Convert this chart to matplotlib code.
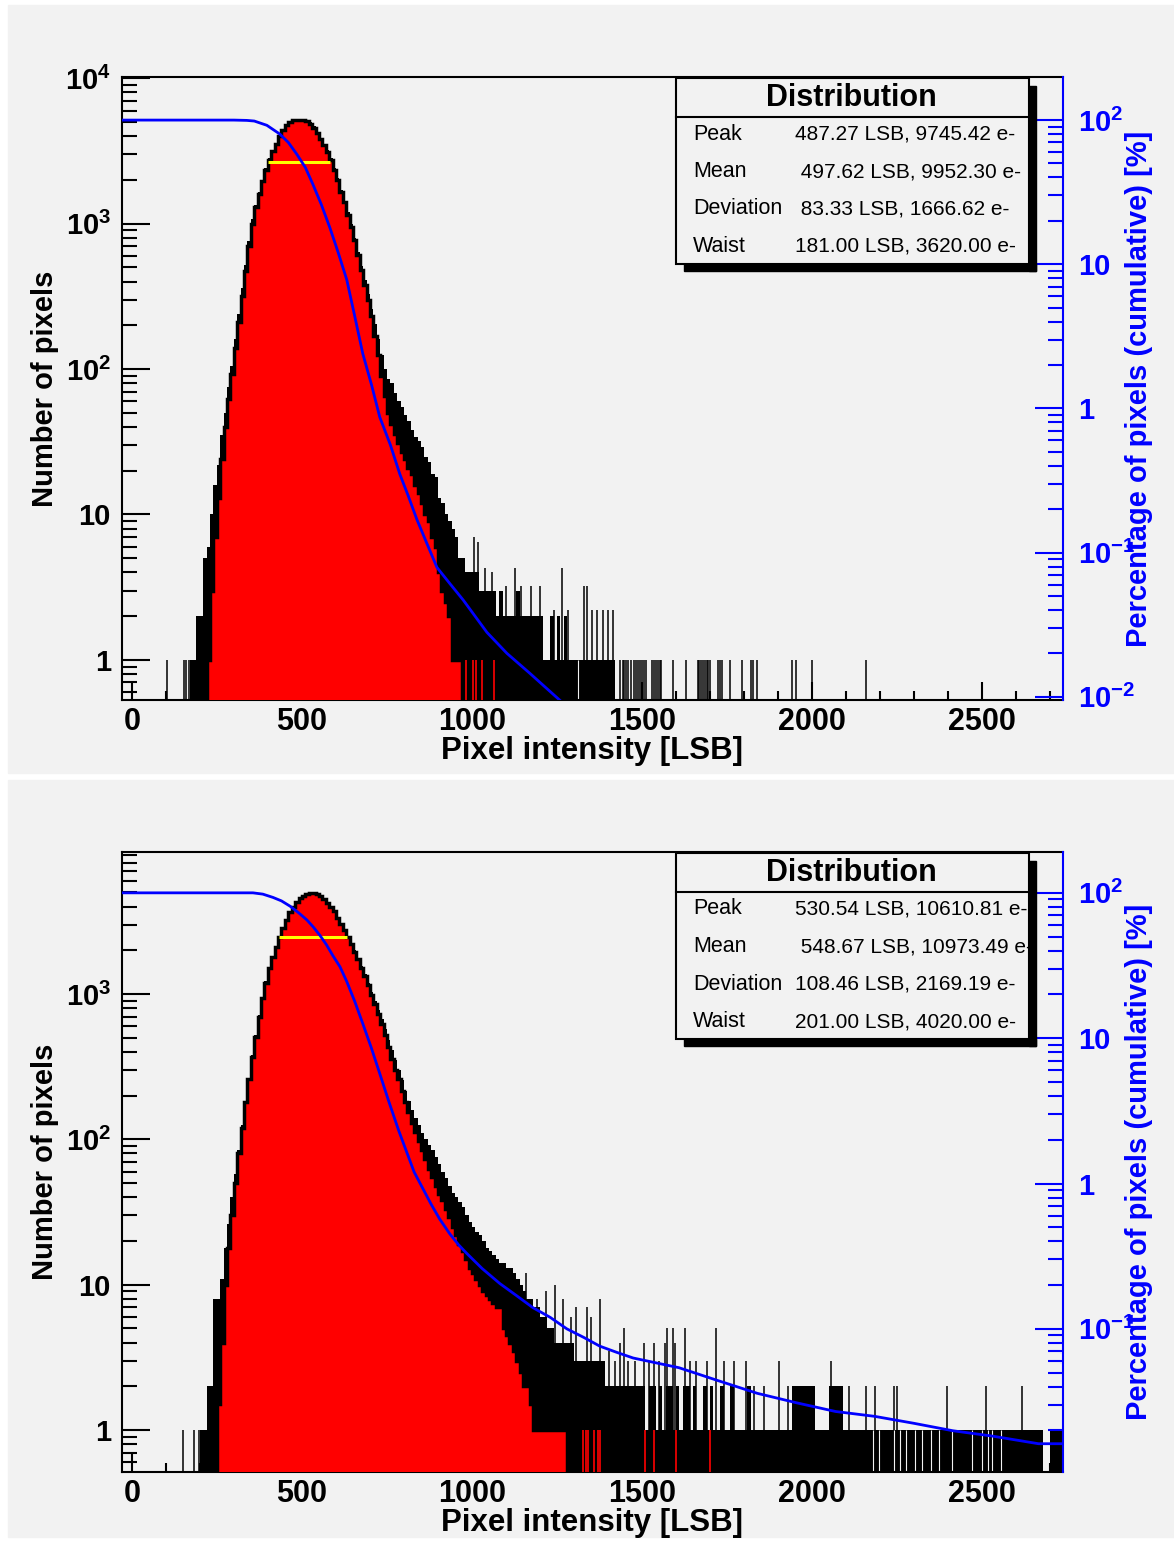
import numpy as np
import matplotlib
matplotlib.use("Agg")
import matplotlib.pyplot as plt
from matplotlib.patches import Rectangle
from matplotlib.lines import Line2D
from matplotlib.ticker import FixedLocator, FuncFormatter, LogLocator, NullFormatter, MultipleLocator

plt.rcParams['font.family'] = ['Liberation Sans', 'DejaVu Sans']
plt.rcParams['font.weight'] = 'bold'
plt.rcParams['mathtext.fontset'] = 'custom'
plt.rcParams['mathtext.rm'] = 'Liberation Sans:bold'
plt.rcParams['mathtext.it'] = 'Liberation Sans:bold'
plt.rcParams['mathtext.bf'] = 'Liberation Sans:bold'

# ---------------- data ----------------
BIN = 10  # LSB per bin of the lists below

# top panel: black envelope, red filled histogram, isolated spikes
top_blk_x0 = 170
top_blk = [1, 1, 2, 2, 5, 6, 10, 16, 22, 35,
           50, 75, 105, 160, 240, 360, 520, 760, 1080, 1350,
           1650, 2000, 2400, 2850, 3200, 3600, 4050, 4450, 4800, 5050,
           5200, 5250, 5250, 5200, 5150, 5000, 4700, 4300, 3900, 3550,
           3200, 2850, 2400, 2050, 1700, 1430, 1200, 1000, 800, 640,
           510, 410, 330, 260, 205, 160, 125, 100, 85, 80,
           68, 60, 55, 48, 44, 38, 34, 32, 29, 25,
           23, 19, 18, 13, 12, 10, 9, 8, 7, 5,
           5, 4, 4, 4, 4, 3, 3, 3, 3, 3,
           2, 3, 2, 2, 2, 2, 3, 2, 2, 2,
           2, 2, 2, 2, 1, 1, 2, 1, 2, 1,
           2, 1, 1, 1, 1, 1, 1, 1, 1, 1,
           1, 1, 1, 1, 1]
top_red_x0 = 220
top_red = [1, 3, 7, 13, 24, 40, 62, 92, 140, 210,
           320, 470, 700, 1000, 1300, 1600, 1950, 2350, 2750, 3150,
           3550, 4000, 4400, 4750, 5000, 5150, 5200, 5200, 5150, 5050,
           4850, 4550, 4200, 3800, 3450, 3100, 2750, 2350, 2000, 1650,
           1400, 1150, 950, 770, 610, 480, 380, 300, 230, 170,
           125, 90, 65, 50, 42, 36, 31, 27, 24, 21,
           19, 16, 14, 12, 10, 9, 7, 6, 4, 3,
           2.5, 2, 1, 1, 1]
top_spk_x = [103, 153, 160, 168, 1005, 1018, 1038, 1060, 1100, 1126, 1145, 1175,
             1200, 1240, 1264, 1282, 1329, 1337, 1352, 1368, 1385, 1400, 1414,
             1434, 1443, 1448, 1454, 1460, 1469, 1477, 1483, 1489, 1494,
             1500, 1506, 1511, 1529, 1534, 1540, 1546, 1552, 1557, 1592,
             1630, 1664, 1669, 1673, 1678, 1684, 1690, 1695, 1701, 1724,
             1730, 1736, 1759, 1793, 1822, 1827, 1839, 1942, 1954, 2000, 2158]
top_spk_n = [1, 1, 1, 1, 7, 6.5, 4.3, 4, 3.2, 4.3, 3.2, 3.2,
             3.2, 2.2, 4.3, 2.2, 3.2, 3.2, 2.2, 2.2, 2.2, 2.2, 2.2,
             1, 1, 1, 1, 1, 1, 1, 1, 1, 1,
             1, 1, 1, 1, 1, 1, 1, 1, 1, 1,
             1, 1, 1, 1, 1, 1, 1, 1, 1, 1,
             1, 1, 1, 1, 1, 1, 1, 1, 1, 1, 1]
top_gap_x = [1312]
top_rspk_x = [982, 1003, 1013, 1030, 1065]
top_fwhm_x = [400, 583]
top_fwhm_y = 2650
top_cum_x = [-29, 300, 338, 360, 397, 435, 460, 485, 510, 532, 557, 582, 607,
             632, 655, 679, 705, 729, 760, 788, 812, 838, 868, 897, 935, 974,
             1044, 1103, 1171, 1262]
top_cum_p = [100, 100, 99.5, 98.5, 92, 80, 70, 58, 47, 36, 26, 18, 12,
             7.8, 4.4, 2.4, 1.45, 0.87, 0.56, 0.35, 0.25, 0.17, 0.115, 0.079,
             0.061, 0.047, 0.028, 0.020, 0.0145, 0.0093]
top_stats = [("Peak", "487.27 LSB, 9745.42 e-"),
             ("Mean", " 497.62 LSB, 9952.30 e-"),
             ("Deviation", " 83.33 LSB, 1666.62 e-"),
             ("Waist", "181.00 LSB, 3620.00 e-")]

# bottom panel
bot_blk_x0 = 150
bot_blk = [0, 0, 0, 0, 0, 1, 1, 2, 2, 8,
           8, 11, 18, 26, 40, 58, 85, 125, 185, 265,
           380, 520, 720, 960, 1220, 1520, 1830, 2150, 2500, 2900,
           3300, 3700, 4050, 4350, 4600, 4800, 4950, 5000, 5000, 4950,
           4800, 4550, 4300, 4050, 3750, 3400, 3100, 2800, 2500, 2250,
           2000, 1780, 1570, 1380, 1200, 1040, 900, 780, 670, 570,
           480, 410, 350, 300, 255, 215, 185, 160, 140, 125,
           110, 100, 92, 84, 76, 68, 60, 54, 48, 43,
           40, 37, 34, 30, 27, 25, 23, 22, 20, 18,
           17, 16, 15, 14, 14, 13, 13, 12, 11, 10,
           9, 8, 8, 7, 7, 6, 6, 5, 5, 4,
           4, 4, 4, 4, 4, 3, 3, 3, 3, 3,
           3, 3, 3, 3, 2, 2, 2, 2, 2, 2,
           2, 2, 2, 2, 2, 2, 1, 2, 2, 1,
           2, 1, 2, 2, 1, 2, 1, 2, 2, 1,
           2, 1, 1, 2, 1, 2, 1, 1, 2, 1,
           1, 2, 1, 1, 1, 1, 2, 1, 1, 1,
           1, 1, 1, 1, 1, 1, 1, 1, 1, 2,
           2, 2, 2, 2, 2, 2, 1, 1, 1, 1,
           2, 2, 2, 2, 1, 1, 1, 1, 1, 1,
           1, 1, 1, 1, 1, 1, 1, 1, 1, 1,
           1, 1, 1, 1, 1, 1, 1, 1, 1, 1,
           1, 1, 1, 1, 1, 1, 1, 1, 1, 1,
           1, 1, 1, 1, 1, 1, 1, 1, 1, 1,
           1, 1, 1, 1, 1, 1, 1, 1, 1, 1,
           1, 1, 1, 0, 0, 1, 1, 1, 1]
bot_red_x0 = 250
bot_red = [1.5, 4, 10, 18, 30, 50, 80, 120, 180, 260,
           370, 510, 700, 940, 1200, 1500, 1800, 2100, 2450, 2850,
           3250, 3650, 4000, 4300, 4550, 4750, 4900, 4950, 4950, 4900,
           4750, 4500, 4250, 4000, 3700, 3350, 3050, 2750, 2450, 2200,
           1950, 1730, 1520, 1330, 1150, 990, 850, 730, 620, 520,
           430, 360, 300, 260, 215, 180, 155, 130, 112, 98,
           85, 73, 63, 55, 48, 42, 38, 33, 29, 25,
           22, 19, 17, 15, 13, 12, 11, 10, 9, 8.5,
           8, 7.5, 7, 7, 5, 4.5, 4, 3.5, 3, 2.5,
           2, 2, 1.5, 1, 1, 1, 1, 1, 1, 1,
           1, 1, 1]
bot_spk_x = [151, 182, 196, 227, 1160, 1190, 1219, 1244, 1268, 1290, 1307, 1337,
             1351, 1376, 1402, 1420, 1435, 1448, 1460, 1480, 1506, 1520, 1534,
             1550, 1569, 1575, 1592, 1598, 1626, 1640, 1660, 1690, 1718, 1740,
             1770, 1805, 1830, 1860, 1902, 1930, 2057, 2110, 2158, 2184, 2241,
             2250, 2396, 2511, 2618]
bot_spk_n = [1, 1, 1, 2, 12, 8, 9, 10, 8, 6, 7, 7,
             6, 8, 3.5, 3, 4, 5, 3, 3, 4, 3, 4,
             3, 4, 5, 5, 4, 5, 3, 3, 3, 5, 3,
             3, 3, 2, 2, 3, 2, 3, 2, 2, 2, 2,
             2, 2, 2, 2]
bot_gap_x = [2178, 2197, 2241, 2258, 2276, 2304, 2322, 2350, 2373, 2413,
             2471, 2500, 2517, 2528, 2557]
bot_rspk_x = [1328, 1334, 1340, 1358, 1370, 1376, 1508, 1534, 1600, 1699]
bot_fwhm_x = [433, 634]
bot_fwhm_y = 2450
bot_cum_x = [-29, 356, 385, 415, 440, 465, 490, 515, 534, 553, 572, 591, 612,
             632, 655, 679, 704, 729, 755, 785, 830, 880, 905, 935, 960, 985,
             1030, 1082, 1130, 1179, 1230, 1279, 1330, 1376, 1425, 1474, 1609,
             1724, 1839, 1954, 2069, 2184, 2299, 2414, 2529, 2666, 2738]
bot_cum_p = [100, 100, 98, 93, 88, 81, 73, 65, 58, 51, 44, 37, 31,
             24.5, 18, 12.6, 8.6, 5.7, 3.7, 2.3, 1.2, 0.72, 0.57, 0.45, 0.38, 0.33,
             0.26, 0.205, 0.17, 0.14, 0.12, 0.10, 0.087, 0.076, 0.069, 0.063, 0.054,
             0.044, 0.036, 0.031, 0.027, 0.025, 0.0224, 0.0199, 0.0183, 0.0162, 0.0162]
bot_stats = [("Peak", "530.54 LSB, 10610.81 e-"),
             ("Mean", " 548.67 LSB, 10973.49 e-"),
             ("Deviation", "108.46 LSB, 2169.19 e-"),
             ("Waist", "201.00 LSB, 4020.00 e-")]

# ---------------- figure ----------------
W, H = 1174, 1541
BG = '#f2f2f2'
BLUE = '#0000ff'
fig = plt.figure(figsize=(W / 100, H / 100), dpi=100)
fig.patch.set_facecolor('white')


def fx(x):
    return x / W


def fy(y):
    return 1 - y / H


def px_rect(x0, y0, x1, y1, **kw):
    r = Rectangle((fx(x0), fy(y1)), (x1 - x0) / W, (y1 - y0) / H,
                  transform=fig.transFigure, **kw)
    fig.add_artist(r)


def dec_label(v, pos):
    e = int(round(np.log10(v)))
    if e == 0:
        return '1'
    if e == 1:
        return '10'
    return r'$10^{%d}$' % e


def draw_panel(top, bot, blk_x0, blk, red_x0, red, spk_x, spk_n, gap_x, rspk_x,
               fwhm_x, fwhm_y, cum_x, cum_p, ylim, ylim2, stats):
    # panel background
    px_rect(8, top - 72, W, min(top + 696, H - 4), color=BG, zorder=-5)

    ax = fig.add_axes([fx(122), fy(bot), 941 / W, (bot - top) / H])
    ax.set_facecolor(BG)
    ax.set_yscale('log')
    ax.set_xlim(-29, 2738)
    ax.set_ylim(*ylim)

    be = blk_x0 + BIN * np.arange(len(blk) + 1)
    ax.stairs(np.clip(blk, 0.05, None), be, baseline=0.05, fill=True,
              color='black', lw=0.5, zorder=2)
    ax.vlines(spk_x, 0.05, spk_n, color='black', lw=1.1, zorder=2)
    ax.vlines(gap_x, 0.05, 1.0, color=BG, lw=0.8, zorder=2.5)
    re = red_x0 + BIN * np.arange(len(red) + 1)
    ax.stairs(red, re, baseline=0.05, fill=True, color='red', lw=0, zorder=3)
    ax.vlines(rspk_x, 0.05, 1.0, color='red', lw=1.2, zorder=3)
    ax.stairs(red, re, baseline=0.05, color='black', lw=2.5, zorder=3.2)
    ax.plot(fwhm_x, [fwhm_y, fwhm_y], color='#ffff00', lw=2.2, zorder=4,
            solid_capstyle='butt')

    ax.xaxis.set_major_locator(MultipleLocator(500))
    ax.xaxis.set_minor_locator(MultipleLocator(100))
    ax.yaxis.set_major_locator(FixedLocator([1, 10, 100, 1000, 10000]))
    ax.yaxis.set_major_formatter(FuncFormatter(dec_label))
    ax.yaxis.set_minor_locator(LogLocator(base=10, subs=np.arange(2, 10), numticks=30))
    ax.yaxis.set_minor_formatter(NullFormatter())
    ax.tick_params(axis='x', which='major', direction='in', length=13, width=1.5,
                   labelsize=22, pad=5, top=False)
    ax.tick_params(axis='x', which='minor', direction='in', length=6.5, width=1.5, top=False)
    ax.tick_params(axis='y', which='major', direction='in', length=20, width=1.5,
                   labelsize=21, pad=8, right=False)
    ax.tick_params(axis='y', which='minor', direction='in', length=11, width=1.5, right=False)
    for s in ['left', 'top', 'bottom']:
        ax.spines[s].set_linewidth(1.5)
    ax.spines['right'].set_visible(False)

    # cumulative axis
    ax2 = ax.twinx()
    ax2.set_yscale('log')
    ax2.set_ylim(*ylim2)
    ax2.plot(cum_x, cum_p, color=BLUE, lw=2.0, zorder=5)
    for s in ['left', 'top', 'bottom']:
        ax2.spines[s].set_visible(False)
    ax2.spines['right'].set_color(BLUE)
    ax2.spines['right'].set_linewidth(1.5)
    ax2.yaxis.set_major_locator(FixedLocator([0.01, 0.1, 1, 10, 100]))
    ax2.yaxis.set_major_formatter(FuncFormatter(dec_label))
    ax2.yaxis.set_minor_locator(LogLocator(base=10, subs=np.arange(2, 10), numticks=30))
    ax2.yaxis.set_minor_formatter(NullFormatter())
    ax2.tick_params(axis='y', which='major', direction='in', length=20, width=1.5,
                    labelsize=21, pad=11, colors=BLUE)
    ax2.tick_params(axis='y', which='minor', direction='in', length=11, width=1.5, colors=BLUE)

    # axis titles
    fig.text(fx(592), fy(bot + 51), 'Pixel intensity [LSB]', fontsize=22.5,
             ha='center', va='center')
    fig.text(fx(45), fy((top + bot) / 2), 'Number of pixels', fontsize=21,
             rotation=90, ha='center', va='center')
    fig.text(fx(1139), fy((top + bot) / 2), 'Percentage of pixels (cumulative) [%]',
             fontsize=21, rotation=90, ha='center', va='center', color=BLUE)

    # stats box
    bt = top + 1
    px_rect(676, bt, 1029, bt + 186, facecolor=BG, edgecolor='black', lw=1.5, zorder=10)
    fig.add_artist(Line2D([fx(676), fx(1029)], [fy(bt + 39), fy(bt + 39)],
                          transform=fig.transFigure, color='black', lw=1.5, zorder=10.5))
    fig.text(fx(851), fy(bt + 20), 'Distribution', fontsize=22, ha='center',
             va='center', zorder=12)
    for i, (name, val) in enumerate(stats):
        yy = fy(bt + 56 + 37.5 * i)
        fig.text(fx(693), yy, name, fontsize=15.5, fontweight='normal',
                 ha='left', va='center', zorder=12)
        fig.text(fx(795), yy, val, fontsize=15, fontweight='normal',
                 ha='left', va='center', zorder=12)
    px_rect(1029, bt + 8, 1036, bt + 193, color='black', zorder=13)
    px_rect(684, bt + 186, 1036, bt + 193, color='black', zorder=13)


draw_panel(77, 700, top_blk_x0, top_blk, top_red_x0, top_red, top_spk_x, top_spk_n,
           top_gap_x, top_rspk_x, top_fwhm_x, top_fwhm_y, top_cum_x, top_cum_p,
           (0.53, 10200), (0.0095, 199), top_stats)
draw_panel(852, 1472, bot_blk_x0, bot_blk, bot_red_x0, bot_red, bot_spk_x, bot_spk_n,
           bot_gap_x, bot_rspk_x, bot_fwhm_x, bot_fwhm_y, bot_cum_x, bot_cum_p,
           (0.514, 9490), (0.01035, 191), bot_stats)

fig.savefig('out.png', dpi=100)
